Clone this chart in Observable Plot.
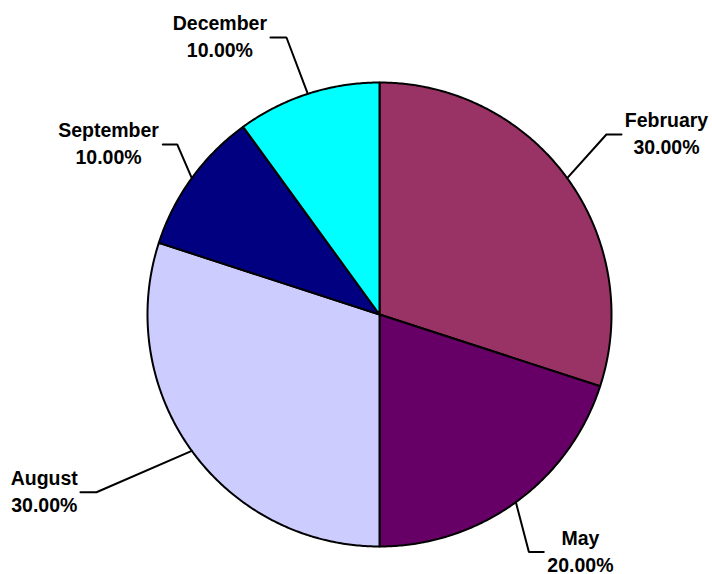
<!DOCTYPE html>
<html><head><meta charset="utf-8">
<script src="https://cdn.jsdelivr.net/npm/d3@7"></script>
<script src="https://cdn.jsdelivr.net/npm/@observablehq/plot@0.6"></script>
<style>html,body{margin:0;padding:0;background:#fff;} svg{display:block;}</style>
</head><body><div id="chart"></div>
<script>
const months = ["February", "May", "August", "September", "December"];
const shares = [30, 20, 30, 10, 10];
const sliceColors = ["#993366", "#660066", "#CCCCFF", "#000080", "#00FFFF"];
// label placement (in pie-radius units): leader elbow, end of horizontal leader, label centre x
const labelLayout = [
  {ex: 0.978, ey: 0.776, hx: 1.043, lx: 1.237},
  {ex: 0.644, ey: -1.024, hx: 0.708, lx: 0.866},
  {ex: -1.220, ey: -0.766, hx: -1.289, lx: -1.445},
  {ex: -0.872, ey: 0.733, hx: -0.934, lx: -1.168},
  {ex: -0.401, ey: 1.194, hx: -0.470, lx: -0.688}
];

const total = d3.sum(shares);
let acc = 0;
const slices = months.map((m, i) => {
  const a0 = acc / total * 2 * Math.PI;
  acc += shares[i];
  const a1 = acc / total * 2 * Math.PI;
  return {month: m, a0, a1, mid: (a0 + a1) / 2, pct: (shares[i] / total * 100).toFixed(2) + "%", ...labelLayout[i]};
});

const polys = slices.flatMap(s => {
  const n = Math.max(2, Math.ceil((s.a1 - s.a0) / (Math.PI / 360)));
  const pts = [{month: s.month, x: 0, y: 0}];
  for (let k = 0; k <= n; k++) {
    const a = s.a0 + (s.a1 - s.a0) * k / n;
    pts.push({month: s.month, x: Math.sin(a), y: Math.cos(a)});
  }
  return pts;
});

const leaders = slices.flatMap(s => [
  {month: s.month, x: Math.sin(s.mid), y: Math.cos(s.mid)},
  {month: s.month, x: s.ex, y: s.ey},
  {month: s.month, x: s.hx, y: s.ey}
]);

const font = "'Liberation Sans', Arial, Helvetica, sans-serif";

const chart = Plot.plot({
  width: 712,
  height: 574,
  marginLeft: 147,
  marginRight: 101,
  marginTop: 82,
  marginBottom: 28,
  x: {domain: [-1, 1], axis: null},
  y: {domain: [-1, 1], axis: null},
  color: {domain: months, range: sliceColors},
  marks: [
    Plot.line(polys, {x: "x", y: "y", z: "month", fill: "month", stroke: "black", strokeWidth: 2, curve: "linear-closed", strokeLinejoin: "round"}),
    Plot.line(leaders, {x: "x", y: "y", z: "month", stroke: "black", strokeWidth: 2, strokeLinejoin: "miter"}),
    Plot.text(slices, {x: "lx", y: "ey", text: "month", dy: -13.25, fontSize: 19.5, fontWeight: "bold", fontFamily: font, fill: "black", textAnchor: "middle"}),
    Plot.text(slices, {x: "lx", y: "ey", text: "pct", dy: 13.25, fontSize: 19.5, fontWeight: "bold", fontFamily: font, fill: "black", textAnchor: "middle"})
  ]
});
document.getElementById("chart").appendChild(chart);
</script>
</body></html>
